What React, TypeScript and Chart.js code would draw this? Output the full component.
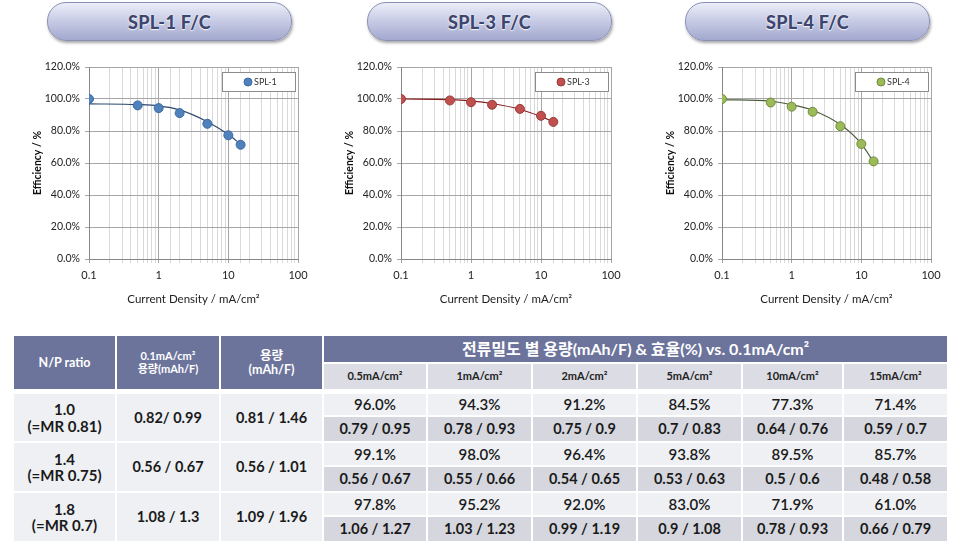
import React, { useEffect, useRef } from "react";
import { Chart, registerables } from "chart.js";
Chart.register(...registerables);

// ---------- chart data ----------
const currentDensity = [0.1, 0.5, 1, 2, 5, 10, 15];
const spl1Efficiency = [100, 96.0, 94.3, 91.2, 84.5, 77.3, 71.4];
const spl3Efficiency = [100, 99.1, 98.0, 96.4, 93.8, 89.5, 85.7];
const spl4Efficiency = [100, 97.8, 95.2, 92.0, 83.0, 71.9, 61.0];
// trend lines
const spl1Trend = [97.0, 96.5, 95.7, 93.2, 85.8, 77.8, 71.8];
const spl3Trend = [100, 99.6, 98.8, 97.2, 93.6, 89.0, 85.8];
const spl4Trend = [99.6, 98.6, 96.4, 93.0, 84.0, 72.0, 60.6];
const xTickLabels = [0.1, 1, 10, 100];
const yTickStep = 20;
const yMax = 120;

// ---------- table data ----------
const densityHeaders = ["0.5mA/cm²", "1mA/cm²", "2mA/cm²", "5mA/cm²", "10mA/cm²", "15mA/cm²"];
const npRatios = ["1.0", "1.4", "1.8"];
const mrValues = ["(=MR 0.81)", "(=MR 0.75)", "(=MR 0.7)"];
const baseCapacity = ["0.82/ 0.99", "0.56 / 0.67", "1.08 / 1.3"];
const totalCapacity = ["0.81 / 1.46", "0.56 / 1.01", "1.09 / 1.96"];
const efficiencyRows = [
  ["96.0%", "94.3%", "91.2%", "84.5%", "77.3%", "71.4%"],
  ["99.1%", "98.0%", "96.4%", "93.8%", "89.5%", "85.7%"],
  ["97.8%", "95.2%", "92.0%", "83.0%", "71.9%", "61.0%"],
];
const capacityRows = [
  ["0.79 / 0.95", "0.78 / 0.93", "0.75 / 0.9", "0.7 / 0.83", "0.64 / 0.76", "0.59 / 0.7"],
  ["0.56 / 0.67", "0.55 / 0.66", "0.54 / 0.65", "0.53 / 0.63", "0.5 / 0.6", "0.48 / 0.58"],
  ["1.06 / 1.27", "1.03 / 1.23", "0.99 / 1.19", "0.9 / 1.08", "0.78 / 0.93", "0.66 / 0.79"],
];

const FONT = "Lato, 'Noto Sans CJK KR', sans-serif";

const isDecade = (v: number) => {
  const lg = Math.log10(v);
  return Math.abs(lg - Math.round(lg)) < 1e-6;
};

const legendBox = {
  id: "legendBox",
  afterDraw(chart: any) {
    const { ctx, chartArea } = chart;
    const w = 73, h = 19;
    const x = Math.round(chartArea.right - w - 3);
    const y = Math.round(chartArea.top + 5);
    ctx.save();
    ctx.fillStyle = "#ffffff";
    ctx.fillRect(x, y, w, h);
    ctx.strokeStyle = "#8c8c8c";
    ctx.lineWidth = 1;
    ctx.strokeRect(x + 0.5, y + 0.5, w, h);
    const ds = chart.data.datasets[1];
    ctx.beginPath();
    ctx.arc(x + 26, y + h / 2 + 0.5, 4, 0, Math.PI * 2);
    ctx.fillStyle = ds.backgroundColor;
    ctx.fill();
    ctx.strokeStyle = ds.borderColor;
    ctx.stroke();
    ctx.fillStyle = "#333";
    ctx.font = "9px " + FONT;
    ctx.textBaseline = "middle";
    ctx.fillText(ds.label, x + 32, y + h / 2 + 1);
    ctx.restore();
  },
};

type ChartProps = {
  left: number;
  top: number;
  width: number;
  height: number;
  label: string;
  values: number[];
  trend: number[];
  fill: string;
  edge: string;
  trendColor: string;
};

function EffChart(p: ChartProps) {
  const ref = useRef<HTMLCanvasElement>(null);
  useEffect(() => {
    const chart = new Chart(ref.current!, {
      type: "scatter",
      data: {
        datasets: [
          {
            type: "line",
            label: p.label + " trend",
            data: currentDensity.map((x, i) => ({ x, y: p.trend[i] })),
            borderColor: p.trendColor,
            borderWidth: 1.2,
            pointRadius: 0,
            cubicInterpolationMode: "monotone",
            fill: false,
            order: 2,
          } as any,
          {
            label: p.label,
            data: currentDensity.map((x, i) => ({ x, y: p.values[i] })),
            backgroundColor: p.fill,
            borderColor: p.edge,
            borderWidth: 1,
            pointRadius: 4.5,
            order: 1,
          },
        ],
      },
      options: {
        responsive: false,
        animation: false,
        devicePixelRatio: 1,
        layout: { padding: { left: 0, right: 17, top: 12, bottom: 0 } },
        plugins: { legend: { display: false }, tooltip: { enabled: false } },
        scales: {
          x: {
            type: "logarithmic",
            min: 0.1,
            max: 100,
            afterFit: (s: any) => {
              s.height = 52;
              s.paddingLeft = 0;
              s.paddingRight = 0;
            },
            grid: {
              color: (c: any) => (c.tick && isDecade(c.tick.value) ? "#a6a6a6" : "#d9d9d9"),
              tickLength: 4,
              drawTicks: true,
            },
            border: { color: "#868686" },
            ticks: {
              autoSkip: false,
              maxRotation: 0,
              padding: 6,
              color: "#222",
              font: { family: FONT, size: 11 },
              callback: (v: any) => {
                const n = Number(v);
                const found = xTickLabels.find((t) => Math.abs(t - n) / t < 1e-6);
                return found !== undefined && isDecade(n) ? String(found) : "";
              },
            },
            title: {
              display: true,
              text: "Current Density / mA/cm²",
              color: "#222",
              font: { family: FONT, size: 11.5 },
              padding: { top: 0, bottom: 5 },
            },
          },
          y: {
            min: 0,
            max: yMax,
            afterFit: (s: any) => {
              s.width = 64;
              s.paddingTop = 0;
              s.paddingBottom = 0;
            },
            grid: { color: "#a6a6a6", tickLength: 4 },
            border: { color: "#868686" },
            ticks: {
              stepSize: yTickStep,
              padding: 5,
              color: "#222",
              font: { family: FONT, size: 10.5 },
              callback: (v: any) => Number(v).toFixed(1) + "%",
            },
            title: {
              display: true,
              text: "Efficiency / %",
              color: "#111",
              font: { family: FONT, size: 10.5, weight: "bold" },
              padding: { top: 6, bottom: 0 },
            },
          },
        },
      },
      plugins: [legendBox],
    } as any);
    return () => chart.destroy();
  }, []);
  return (
    <canvas
      ref={ref}
      width={p.width}
      height={p.height}
      style={{ position: "absolute", left: p.left, top: p.top, width: p.width, height: p.height }}
    />
  );
}

function Pill({ left, width, text }: { left: number; width: number; text: string }) {
  return (
    <div
      style={{
        position: "absolute",
        left,
        top: 2,
        width,
        height: 37,
        borderRadius: 19,
        border: "1px solid #8a90b6",
        background: "linear-gradient(180deg, #eceef8 0%, #c9cde6 45%, #a3a9cf 100%)",
        boxShadow: "1px 2px 3px rgba(0,0,0,0.35)",
        display: "flex",
        alignItems: "center",
        justifyContent: "center",
        fontFamily: FONT,
        fontWeight: 900,
        fontSize: 18,
        color: "#3c466e",
        textShadow: "0 0 2px #ffffff, 0 1px 1px rgba(255,255,255,0.8)",
        letterSpacing: 0.3,
      }}
    >
      {text}
    </div>
  );
}

const colEdges = [13, 116, 220, 323, 427, 532, 637, 742, 843, 948];
const groupEdges = [393, 442, 492, 542];
const groupMids = [416, 466, 516];

function Cell({
  x0, x1, y0, y1, bg, color, size, children, weight = 700,
}: any) {
  return (
    <div
      style={{
        position: "absolute",
        left: x0 + 1,
        top: y0 + 1,
        width: x1 - x0 - 2,
        height: y1 - y0 - 2,
        background: bg,
        color,
        fontSize: size,
        fontWeight: weight,
        fontFamily: FONT,
        display: "flex",
        flexDirection: "column",
        alignItems: "center",
        justifyContent: "center",
        textAlign: "center",
        lineHeight: 1.1,
      }}
    >
      {children}
    </div>
  );
}

function DataTable() {
  const HEAD = "#6c749c";
  const SUB = "#dcdde4";
  const LIGHT = "#eef0f3";
  const DARK = "#d6d7de";
  const cells: any[] = [];
  cells.push(
    <Cell key="h0" x0={colEdges[0]} x1={colEdges[1]} y0={335} y1={390} bg={HEAD} color="#fff" size={12.5}>
      N/P ratio
    </Cell>
  );
  cells.push(
    <Cell key="h1" x0={colEdges[1]} x1={colEdges[2]} y0={335} y1={390} bg={HEAD} color="#fff" size={11}>
      <span>0.1mA/cm²</span>
      <span>용량(mAh/F)</span>
    </Cell>
  );
  cells.push(
    <Cell key="h2" x0={colEdges[2]} x1={colEdges[3]} y0={335} y1={390} bg={HEAD} color="#fff" size={12.5}>
      <span>용량</span>
      <span>(mAh/F)</span>
    </Cell>
  );
  cells.push(
    <Cell key="h3" x0={colEdges[3]} x1={colEdges[9]} y0={335} y1={363} bg={HEAD} color="#fff" size={16}>
      전류밀도 별 용량(mAh/F) &amp; 효율(%) vs. 0.1mA/cm²
    </Cell>
  );
  densityHeaders.forEach((h, i) => {
    cells.push(
      <Cell key={"s" + i} x0={colEdges[3 + i]} x1={colEdges[4 + i]} y0={363} y1={390} bg={SUB} color="#222" size={11}>
        {h}
      </Cell>
    );
  });
  npRatios.forEach((np, r) => {
    const y0 = groupEdges[r], y1 = groupEdges[r + 1], ym = groupMids[r];
    cells.push(
      <Cell key={"np" + r} x0={colEdges[0]} x1={colEdges[1]} y0={y0} y1={y1} bg={LIGHT} color="#1a1a1a" size={15}>
        <span>{np}</span>
        <span>{mrValues[r]}</span>
      </Cell>
    );
    cells.push(
      <Cell key={"bc" + r} x0={colEdges[1]} x1={colEdges[2]} y0={y0} y1={y1} bg={LIGHT} color="#1a1a1a" size={14.5}>
        {baseCapacity[r]}
      </Cell>
    );
    cells.push(
      <Cell key={"tc" + r} x0={colEdges[2]} x1={colEdges[3]} y0={y0} y1={y1} bg={LIGHT} color="#1a1a1a" size={14.5}>
        {totalCapacity[r]}
      </Cell>
    );
    efficiencyRows[r].forEach((v, c) => {
      cells.push(
        <Cell key={"e" + r + c} x0={colEdges[3 + c]} x1={colEdges[4 + c]} y0={y0} y1={ym} bg={LIGHT} color="#1a1a1a" size={15} weight={600}>
          {v}
        </Cell>
      );
    });
    capacityRows[r].forEach((v, c) => {
      cells.push(
        <Cell key={"c" + r + c} x0={colEdges[3 + c]} x1={colEdges[4 + c]} y0={ym} y1={y1} bg={DARK} color="#1a1a1a" size={14.5}>
          {v}
        </Cell>
      );
    });
  });
  return <>{cells}</>;
}

export default function App() {
  return (
    <div
      style={{
        position: "absolute",
        left: 0,
        top: 0,
        width: 961,
        height: 554,
        background: "#ffffff",
        overflow: "hidden",
        fontFamily: FONT,
      }}
    >
      <Pill left={47} width={243} text="SPL-1 F/C" />
      <Pill left={367} width={243} text="SPL-3 F/C" />
      <Pill left={685} width={243} text="SPL-4 F/C" />
      <EffChart left={25} top={55} width={290} height={256} label="SPL-1" values={spl1Efficiency} trend={spl1Trend} fill="#4f81bd" edge="#3a6aa3" trendColor="#2b4870" />
      <EffChart left={337} top={55} width={291} height={256} label="SPL-3" values={spl3Efficiency} trend={spl3Trend} fill="#c0504d" edge="#983c3a" trendColor="#8b1e1e" />
      <EffChart left={658} top={55} width={290} height={256} label="SPL-4" values={spl4Efficiency} trend={spl4Trend} fill="#9bbb59" edge="#6f8a3c" trendColor="#4f5b3e" />
      <DataTable />
    </div>
  );
}
